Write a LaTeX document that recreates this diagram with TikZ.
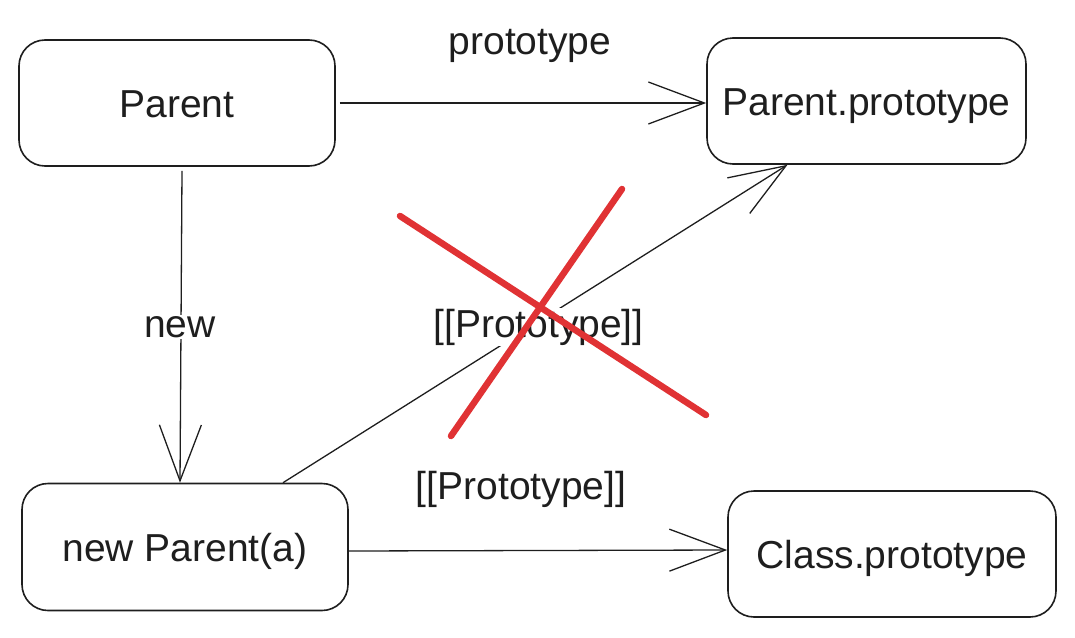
\documentclass[tikz,border=0pt]{standalone}
\usepackage{fontspec}
\setmainfont{Liberation Sans}
\usetikzlibrary{arrows.meta,calc}
\definecolor{ink}{HTML}{1E1E1E}
\definecolor{cross}{HTML}{E03234}
\tikzset{
  box/.style={draw=ink, line width=1.6pt, rounded corners=26pt, text=ink,
    font=\fontsize{39}{45}\selectfont, inner sep=0pt, text height=28pt, text depth=0pt},
  conn/.style={draw=ink, line width=1.3pt,
    -{Straight Barb[length=56pt,width=42pt,line width=1.3pt]}},
  lbl/.style={text=ink, font=\fontsize{39}{45}\selectfont, inner sep=2pt},
  lblw/.style={lbl, fill=white, inner sep=1pt},
  redline/.style={draw=cross, line width=6.5pt, line cap=round}
}
\begin{document}
\begin{tikzpicture}[x=1pt,y=-1pt]
\useasboundingbox (0,0) rectangle (1075,637);
\node[box, minimum width=316pt, minimum height=126pt] (P) at (177,103) {Parent};
\node[box, minimum width=319pt, minimum height=126pt] (PP) at (866.5,101) {Parent.prototype};
\node[box, minimum width=326pt, minimum height=127pt] (NP) at (185,547) {new Parent(a)};
\node[box, minimum width=328pt, minimum height=126pt] (CP) at (892,554) {Class.prototype};

% prototype
\draw[conn] ([xshift=4pt]P.east) -- (P.east -| PP.west);
\node[lbl] (lp) at (530,46) {prototype};

% new
\draw[conn] ([xshift=5pt,yshift=-4pt]P.south) -- ([xshift=-5pt]NP.north);
\node[lblw] (ln) at (180,327) {new};

% [[Prototype]] to Parent.prototype
\draw[conn] ([xshift=98pt]NP.north) -- ([xshift=-79pt]PP.south);
\node[lblw] (lu) at (538.5,327) {[[Prototype]]};

% [[Prototype]] to Class.prototype
\draw[conn] ([xshift=-1pt,yshift=-4pt]NP.east) -- ([yshift=4pt]CP.west);
\node[lbl] (ll) at (521,489) {[[Prototype]]};

% red cross
\coordinate (x1) at (400,216);
\coordinate (x2) at (706,415);
\coordinate (x3) at (622,189);
\coordinate (x4) at (451,436);
\draw[redline] (x1) -- (x2);
\draw[redline] (x3) -- (x4);
\end{tikzpicture}
\end{document}
